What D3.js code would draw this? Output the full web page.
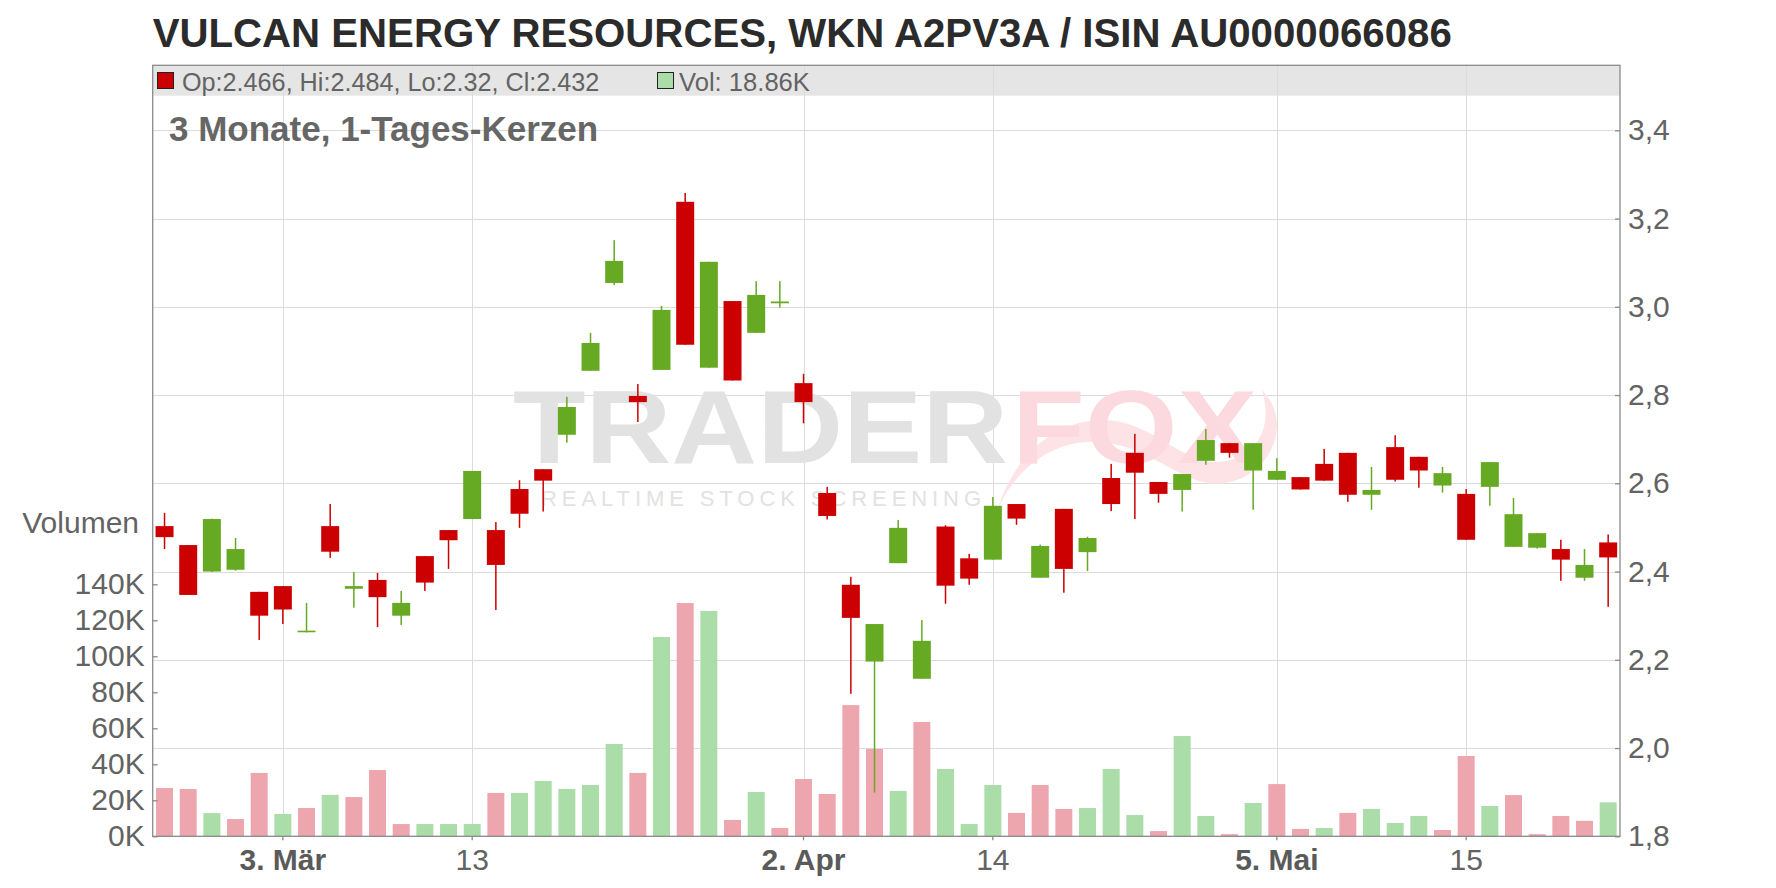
<!DOCTYPE html>
<html>
<head>
<meta charset="utf-8">
<script src="https://cdn.jsdelivr.net/npm/d3@7"></script>
<style>
  html, body { margin: 0; padding: 0; background: #fff; }
  svg { display: block; font-family: "Liberation Sans", Arial, sans-serif; }
</style>
</head>
<body>
<div id="chart"></div>
<script>
// ---------------- DATA ----------------
const dates = [
  "2025-02-24","2025-02-25","2025-02-26","2025-02-27","2025-02-28",
  "2025-03-03","2025-03-04","2025-03-05","2025-03-06","2025-03-07",
  "2025-03-10","2025-03-11","2025-03-12","2025-03-13","2025-03-14",
  "2025-03-17","2025-03-18","2025-03-19","2025-03-20","2025-03-21",
  "2025-03-24","2025-03-25","2025-03-26","2025-03-27","2025-03-28",
  "2025-03-31","2025-04-01","2025-04-02","2025-04-03","2025-04-04",
  "2025-04-07","2025-04-08","2025-04-09","2025-04-10","2025-04-11",
  "2025-04-14","2025-04-15","2025-04-16","2025-04-17","2025-04-22",
  "2025-04-23","2025-04-24","2025-04-25","2025-04-28","2025-04-29",
  "2025-04-30","2025-05-02","2025-05-05","2025-05-06","2025-05-07",
  "2025-05-08","2025-05-09","2025-05-12","2025-05-13","2025-05-14",
  "2025-05-15","2025-05-16","2025-05-19","2025-05-20","2025-05-21",
  "2025-05-22","2025-05-23"
];
const open = [
  2.503,2.460,2.400,2.404,2.354, 2.367,2.264,2.503,2.361,2.381,
  2.300,2.435,2.494,2.519,2.494, 2.587,2.632,2.710,2.855,3.054,
  2.798,2.857,3.238,2.862,3.013, 2.941,3.008,2.827,2.578,2.370,
  2.196,2.419,2.157,2.502,2.430, 2.427,2.553,2.386,2.542,2.444,
  2.612,2.669,2.603,2.585,2.651, 2.691,2.629,2.608,2.614,2.644,
  2.669,2.574,2.682,2.660,2.595, 2.576,2.592,2.456,2.454,2.451,
  2.386,2.466
];
const high = [
  2.533,2.460,2.520,2.476,2.354, 2.367,2.329,2.553,2.399,2.397,
  2.356,2.435,2.494,2.628,2.512, 2.607,2.632,2.796,2.941,3.151,
  2.825,3.002,3.258,3.102,3.013, 3.058,3.058,2.848,2.592,2.388,
  2.281,2.517,2.290,2.505,2.440, 2.569,2.553,2.461,2.542,2.479,
  2.644,2.712,2.603,2.621,2.723, 2.691,2.691,2.657,2.614,2.678,
  2.669,2.637,2.709,2.660,2.637, 2.587,2.648,2.567,2.487,2.472,
  2.451,2.484
];
const low = [
  2.451,2.347,2.399,2.402,2.245, 2.281,2.262,2.431,2.318,2.274,
  2.279,2.356,2.406,2.519,2.313, 2.499,2.536,2.692,2.855,3.049,
  2.739,2.857,2.914,2.862,2.833, 2.941,2.998,2.736,2.518,2.123,
  1.899,2.419,2.157,2.327,2.370, 2.427,2.506,2.386,2.352,2.401,
  2.537,2.519,2.556,2.536,2.642, 2.658,2.540,2.608,2.586,2.606,
  2.558,2.540,2.604,2.590,2.579, 2.472,2.549,2.456,2.452,2.379,
  2.379,2.320
];
const close = [
  2.478,2.347,2.519,2.451,2.300, 2.314,2.266,2.445,2.367,2.342,
  2.329,2.375,2.471,2.628,2.415, 2.531,2.606,2.773,2.918,3.104,
  2.784,2.993,2.914,3.102,2.833, 3.027,3.012,2.784,2.526,2.295,
  2.281,2.499,2.243,2.368,2.384, 2.549,2.520,2.458,2.406,2.476,
  2.553,2.624,2.576,2.621,2.698, 2.669,2.691,2.628,2.586,2.606,
  2.574,2.585,2.608,2.629,2.623, 2.472,2.648,2.530,2.487,2.427,
  2.415,2.432
];
const volume = [
  26800,26300,12900,9600,35200, 12400,15700,23000,21800,36800,
  6800,6800,6800,6800,24100, 24100,30700,26300,28500,51300,
  35200,110700,129600,125200,9100, 24600,4600,31800,23500,72900,
  48500,25200,63500,37400,6800, 28500,13000,28500,15200,15700,
  37400,11800,2900,55700,11300, 1200,18500,29000,4100,4600,
  13000,15200,7400,11300,3500, 44600,16800,22900,1200,11300,
  8600,18860
];
// 1 = close above previous close (green volume bar), 0 = below (red)
const volUp = [
  0,0,1,0,0, 1,0,1,0,0,
  0,1,1,1,0, 1,1,1,1,1,
  0,1,0,1,0, 1,0,0,0,0,
  0,1,0,1,1, 1,0,0,0,1,
  1,1,0,1,1, 0,1,0,0,1,
  0,1,1,1,0, 0,1,0,0,0,
  0,1
];
const priceTicks = [1.8, 2.0, 2.2, 2.4, 2.6, 2.8, 3.0, 3.2, 3.4];
const volTicks = [0, 20000, 40000, 60000, 80000, 100000, 120000, 140000];
const tickDates = ["2025-03-03","2025-03-13","2025-04-02","2025-04-14","2025-05-05","2025-05-15"];
const tickLabels = ["3. Mär","13","2. Apr","14","5. Mai","15"];
const tickBold = [true,false,true,false,true,false];

const titleText = "VULCAN ENERGY RESOURCES, WKN A2PV3A / ISIN AU0000066086";
const subtitleText = "3 Monate, 1-Tages-Kerzen";
const legendPrice = "Op:2.466, Hi:2.484, Lo:2.32, Cl:2.432";
const legendVol = "Vol: 18.86K";

// ---------------- LAYOUT ----------------
const W = 1776, H = 888;
const plotL = 152.7, plotR = 1620, plotT = 65.3, headB = 95.7, plotB = 836.3;
const C = {
  up: "#66a922", down: "#cc0000",
  volUp: "#abdda9", volDown: "#eea6ae",
  grid: "#dcdcdc", frame: "#8a8a8a", text: "#636363", head: "#e5e5e5"
};

const svg = d3.select("#chart").append("svg").attr("width", W).attr("height", H);

const x = d3.scaleBand().domain(dates).range([plotL, plotR])
  .paddingInner(0.24).paddingOuter(0.12);
const yP = d3.scaleLinear().domain([1.8, 3.4]).range([plotB, 130.3]);
const yV = d3.scaleLinear().domain([0, 140000]).range([plotB, 584.3]);

// header band
svg.append("rect").attr("x", plotL).attr("y", plotT)
  .attr("width", plotR - plotL).attr("height", headB - plotT).attr("fill", C.head);

// grid
const g = svg.append("g");
g.selectAll(".hg").data(priceTicks).join("line")
  .attr("x1", plotL).attr("x2", plotR)
  .attr("y1", d => Math.round(yP(d)) + 0.5).attr("y2", d => Math.round(yP(d)) + 0.5)
  .attr("stroke", C.grid).attr("stroke-width", 1);
g.selectAll(".vg").data(tickDates).join("line")
  .attr("x1", d => Math.round(x(d) + x.bandwidth() / 2) + 0.5)
  .attr("x2", d => Math.round(x(d) + x.bandwidth() / 2) + 0.5)
  .attr("y1", plotT).attr("y2", plotB)
  .attr("stroke", C.grid).attr("stroke-width", 1);

// watermark
const wm = svg.append("g").attr("font-weight", "bold");
wm.append("path")
  .attr("d", "M998,508 C1025,452 1075,432 1122,446 C1170,460 1198,498 1242,478 C1276,462 1290,418 1262,390 C1275,432 1252,460 1218,462 C1182,464 1150,420 1104,420 C1052,420 1014,458 998,508 Z")
  .attr("fill", "#fde3e6");
wm.append("text").attr("x", 513).attr("y", 463).attr("font-size", 104)
  .attr("textLength", 495).attr("lengthAdjust", "spacingAndGlyphs")
  .attr("fill", "#e2e2e2").text("TRADER");
wm.append("text").attr("x", 1012).attr("y", 463).attr("font-size", 104)
  .attr("textLength", 245).attr("lengthAdjust", "spacingAndGlyphs")
  .attr("fill", "#fcd9de").text("FOX");
wm.append("text").attr("x", 541).attr("y", 506).attr("font-size", 22)
  .attr("font-weight", "normal")
  .attr("textLength", 440).attr("lengthAdjust", "spacing")
  .attr("fill", "#e2e2e2").text("REALTIME STOCK SCREENING");

// data rows
const rows = dates.map((d, i) => ({
  d, o: open[i], h: high[i], l: low[i], c: close[i], v: volume[i], vu: volUp[i]
}));

// volume bars
const bw = x.bandwidth();
svg.append("g").selectAll("rect").data(rows).join("rect")
  .attr("x", r => x(r.d) + 0.5)
  .attr("width", bw - 1)
  .attr("y", r => yV(r.v))
  .attr("height", r => plotB - yV(r.v))
  .attr("fill", r => r.vu ? C.volUp : C.volDown);

// candles
const cg = svg.append("g").selectAll("g").data(rows).join("g");
cg.append("rect")
  .attr("x", r => x(r.d) + bw / 2 - 0.75).attr("width", 1.5)
  .attr("y", r => yP(r.h)).attr("height", r => Math.max(1, yP(r.l) - yP(r.h)))
  .attr("fill", r => r.c >= r.o ? C.up : C.down);
cg.append("rect")
  .attr("x", r => x(r.d)).attr("width", bw)
  .attr("y", r => yP(Math.max(r.o, r.c)))
  .attr("height", r => Math.max(1.6, Math.abs(yP(r.o) - yP(r.c))))
  .attr("fill", r => r.c >= r.o ? C.up : C.down);

// frame
svg.append("rect").attr("x", plotL).attr("y", plotT)
  .attr("width", plotR - plotL).attr("height", plotB - plotT)
  .attr("fill", "none").attr("stroke", C.frame).attr("stroke-width", 1.3);

// axes
function styleAxis(sel, size) {
  sel.select(".domain").remove();
  sel.selectAll(".tick line").attr("stroke", C.frame).attr("stroke-width", 1.3);
  sel.selectAll(".tick text").attr("fill", C.text)
    .attr("font-size", size).attr("font-family", "Liberation Sans, Arial, sans-serif");
}
const axR = svg.append("g").attr("transform", `translate(${plotR},0)`)
  .call(d3.axisRight(yP).tickValues(priceTicks)
    .tickFormat(d => d3.format(".1f")(d).replace(".", ","))
    .tickSizeInner(-5).tickSizeOuter(0).tickPadding(8));
styleAxis(axR, 30);

const axL = svg.append("g").attr("transform", `translate(${plotL},0)`)
  .call(d3.axisLeft(yV).tickValues(volTicks)
    .tickFormat(d => (d / 1000) + "K")
    .tickSizeInner(-5).tickSizeOuter(0).tickPadding(8));
styleAxis(axL, 30);

const axB = svg.append("g").attr("transform", `translate(0,${plotB})`)
  .call(d3.axisBottom(x).tickValues(tickDates)
    .tickFormat(d => tickLabels[tickDates.indexOf(d)])
    .tickSizeInner(4).tickSizeOuter(0).tickPadding(8));
styleAxis(axB, 30);
axB.selectAll(".tick text")
  .attr("font-weight", d => tickBold[tickDates.indexOf(d)] ? "bold" : "normal")
  .attr("fill", d => tickBold[tickDates.indexOf(d)] ? "#5a5a5a" : C.text);

// texts
svg.append("text").attr("x", plotL).attr("y", 47)
  .attr("font-size", 40.2).attr("font-weight", "bold").attr("fill", "#2b2b2b")
  .text(titleText);
svg.append("text").attr("x", 169).attr("y", 141)
  .attr("font-size", 35).attr("font-weight", "bold").attr("fill", "#666")
  .text(subtitleText);
svg.append("text").attr("x", 139).attr("y", 533).attr("text-anchor", "end")
  .attr("font-size", 30).attr("fill", C.text).text("Volumen");

// header legend
svg.append("rect").attr("x", 157.5).attr("y", 72.5).attr("width", 16).attr("height", 16)
  .attr("fill", C.down).attr("stroke", "#222").attr("stroke-width", 1);
svg.append("text").attr("x", 182).attr("y", 90.5).attr("font-size", 25.2)
  .attr("fill", C.text).text(legendPrice);
svg.append("rect").attr("x", 657.5).attr("y", 72.5).attr("width", 16).attr("height", 16)
  .attr("fill", C.volUp).attr("stroke", "#222").attr("stroke-width", 1);
svg.append("text").attr("x", 679).attr("y", 90.5).attr("font-size", 25.6)
  .attr("fill", C.text).text(legendVol);
</script>
</body>
</html>
